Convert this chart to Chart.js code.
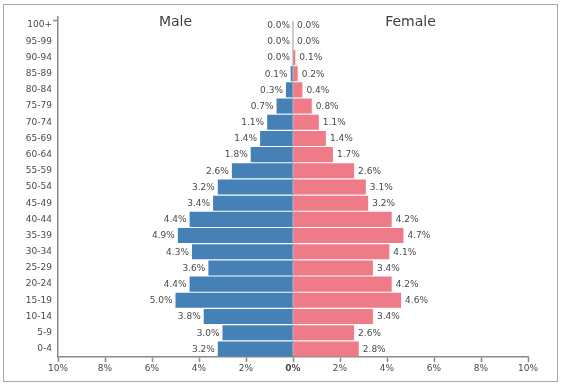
<!DOCTYPE html>
<html>
<head>
<meta charset="utf-8">
<script src="https://cdn.jsdelivr.net/npm/chart.js@4/dist/chart.umd.min.js"></script>
<style>
html,body{margin:0;padding:0;background:#fff;}
canvas{display:block;}
</style>
</head>
<body>
<canvas id="c" width="561" height="386"></canvas>
<script>
const ageGroups = ["100+","95-99","90-94","85-89","80-84","75-79","70-74","65-69","60-64","55-59","50-54","45-49","40-44","35-39","30-34","25-29","20-24","15-19","10-14","5-9","0-4"];
const maleValues = [0.0,0.0,0.0,0.1,0.3,0.7,1.1,1.4,1.8,2.6,3.2,3.4,4.4,4.9,4.3,3.6,4.4,5.0,3.8,3.0,3.2];
const femaleValues = [0.0,0.0,0.1,0.2,0.4,0.8,1.1,1.4,1.7,2.6,3.1,3.2,4.2,4.7,4.1,3.4,4.2,4.6,3.4,2.6,2.8];
const xTickValues = [-10,-8,-6,-4,-2,0,2,4,6,8,10];
const sideTitles = ["Male","Female"];

const FONT = "'DejaVu Sans', sans-serif";
const TEXT = '#4a4a4a';
const AXIS = '#8a8a8a';

const decor = {
  id: 'decor',
  beforeDraw(chart) {
    const ctx = chart.ctx;
    ctx.save();
    ctx.fillStyle = '#fff';
    ctx.fillRect(0, 0, chart.width, chart.height);
    ctx.strokeStyle = '#a8a8a8';
    ctx.lineWidth = 1;
    ctx.strokeRect(3.5, 4.5, 554, 377);
    ctx.restore();
  },
  afterDatasetsDraw(chart) {
    const ctx = chart.ctx;
    const xs = chart.scales.x, ys = chart.scales.y;
    const area = chart.chartArea;
    ctx.save();
    const x0 = xs.getPixelForValue(0);
    ctx.strokeStyle = 'rgba(70,70,70,0.55)';
    ctx.lineWidth = 1;
    ctx.beginPath();
    ctx.moveTo(x0, ys.getPixelForValue(0) - 4);
    ctx.lineTo(x0, area.bottom);
    ctx.stroke();
    ctx.strokeStyle = AXIS;
    ctx.lineWidth = 1.5;
    ctx.beginPath();
    ctx.moveTo(area.left - 5, area.top + 3.5);
    ctx.lineTo(area.left, area.top + 3.5);
    ctx.stroke();
    ctx.font = "9px " + FONT;
    ctx.fillStyle = TEXT;
    ctx.textBaseline = 'middle';
    chart.data.datasets.forEach((ds, di) => {
      const meta = chart.getDatasetMeta(di);
      meta.data.forEach((el, i) => {
        const v = di === 0 ? maleValues[i] : femaleValues[i];
        const txt = v.toFixed(1) + '%';
        if (di === 0) {
          ctx.textAlign = 'right';
          ctx.fillText(txt, el.x - 3, el.y + 0.5);
        } else {
          ctx.textAlign = 'left';
          ctx.fillText(txt, el.x + 4, el.y + 0.5);
        }
      });
    });
    ctx.font = "14px " + FONT;
    ctx.fillStyle = '#3f3f3f';
    ctx.textAlign = 'center';
    ctx.fillText(sideTitles[0], xs.getPixelForValue(-5), 22);
    ctx.fillText(sideTitles[1], xs.getPixelForValue(5), 22);
    ctx.restore();
  }
};

new Chart(document.getElementById('c'), {
  type: 'bar',
  data: {
    labels: ageGroups,
    datasets: [
      { label: 'Male', data: maleValues.map(v => -v), backgroundColor: '#4580b6', borderWidth: 0, barPercentage: 0.93, categoryPercentage: 1 },
      { label: 'Female', data: femaleValues, backgroundColor: '#f07b88', borderWidth: 0, barPercentage: 0.93, categoryPercentage: 1 }
    ]
  },
  options: {
    indexAxis: 'y',
    responsive: false,
    animation: false,
    layout: { padding: { left: 0, right: 33, top: 17, bottom: 0 } },
    plugins: { legend: { display: false }, tooltip: { enabled: false } },
    scales: {
      x: {
        type: 'linear',
        min: -10, max: 10,
        stacked: true,
        afterBuildTicks(scale) { scale.ticks = xTickValues.map(v => ({ value: v })); },
        afterFit(scale) { scale.height = 29; },
        ticks: {
          padding: 1,
          color: TEXT,
          font: ctx => ({ family: FONT, size: 9, weight: (ctx.tick && ctx.tick.value === 0) ? 'bold' : 'normal' }),
          callback: v => Math.abs(v) + '%',
          maxRotation: 0, autoSkip: false
        },
        grid: { drawOnChartArea: false, drawTicks: true, tickLength: 5, tickColor: AXIS, tickWidth: 1.5 },
        border: { display: true, color: AXIS, width: 1.5 }
      },
      y: {
        stacked: true,
        afterFit(scale) { scale.width = 58; },
        ticks: { padding: 6, color: TEXT, font: { family: FONT, size: 9 }, autoSkip: false },
        grid: { display: false, drawTicks: false },
        border: { display: true, color: AXIS, width: 1.5 }
      }
    }
  },
  plugins: [decor]
});
</script>
</body>
</html>
